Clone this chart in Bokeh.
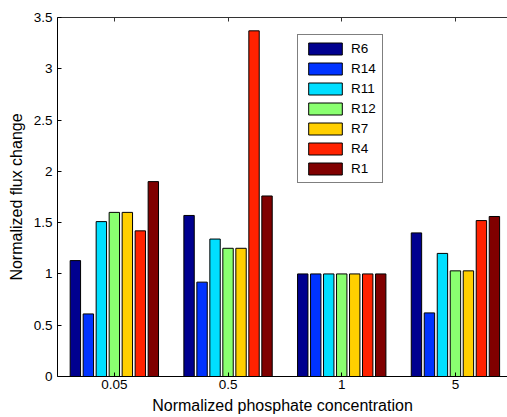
from bokeh.plotting import figure
from bokeh.models import (Legend, LegendItem, LinearAxis, FixedTicker,
                          CustomJSTickFormatter, Range1d, ColumnDataSource)
from bokeh.embed import file_html
from bokeh.resources import INLINE

# Phosphate levels (normalized) and the reactions whose flux change is shown
concentrations = ["0.05", "0.5", "1", "5"]
reactions = ["R6", "R14", "R11", "R12", "R7", "R4", "R1"]

r6 = [1.13, 1.57, 1.00, 1.40]
r14 = [0.61, 0.92, 1.00, 0.62]
r11 = [1.51, 1.34, 1.00, 1.20]
r12 = [1.60, 1.25, 1.00, 1.03]
r7 = [1.60, 1.25, 1.00, 1.03]
r4 = [1.42, 3.37, 1.00, 1.52]
r1 = [1.90, 1.76, 1.00, 1.56]
series = [r6, r14, r11, r12, r7, r4, r1]

colors = ["#00008F", "#0033FF", "#00DFFF", "#8AFF70", "#FFCF00", "#FF2200", "#800000"]

FONT = "Liberation Sans"

p = figure(width=507, height=417, output_backend="svg", toolbar_location=None,
           x_range=Range1d(0.5, 4.458), y_range=Range1d(0, 3.5),
           min_border_left=57, min_border_right=0,
           min_border_top=17, min_border_bottom=41)
p.outline_line_color = None
p.xgrid.visible = False
p.ygrid.visible = False
p.background_fill_color = "white"
p.border_fill_color = "white"

# grouped bars: 7 series share 0.8 of each category slot
n = len(series)
group_width = 0.8
slot = group_width / n
bar_w = slot * 0.8
positions = list(range(1, len(concentrations) + 1))

items = []
for i, (name, vals, col) in enumerate(zip(reactions, series, colors)):
    offset = -group_width / 2 + (i + 0.5) * slot
    src = ColumnDataSource(dict(x=[x + offset for x in positions], top=vals))
    r = p.vbar(x="x", top="top", width=bar_w, bottom=0, source=src,
               fill_color=col, line_color="black", line_width=1)
    items.append(LegendItem(label=name, renderers=[r]))

# x axis (bottom)
xa = p.xaxis[0]
xa.ticker = FixedTicker(ticks=positions)
xa.major_label_overrides = {pos: lab for pos, lab in zip(positions, concentrations)}
xa.axis_label = "Normalized phosphate concentration"

# y axis (left)
ya = p.yaxis[0]
ya.ticker = FixedTicker(ticks=[0, 0.5, 1, 1.5, 2, 2.5, 3, 3.5])
ya.formatter = CustomJSTickFormatter(code="return String(tick)")
ya.axis_label = "Normalized flux change"

for ax in (xa, ya):
    ax.major_tick_in = 4
    ax.major_tick_out = 0
    ax.minor_tick_line_color = None
    ax.axis_line_color = "black"
    ax.major_tick_line_color = "black"
    ax.major_label_text_font = FONT
    ax.major_label_text_font_size = "13.5px"
    ax.major_label_text_color = "black"
    ax.axis_label_text_font = FONT
    ax.axis_label_text_font_size = "16px"
    ax.axis_label_text_font_style = "normal"
    ax.axis_label_text_color = "black"

xa.major_label_standoff = 3
xa.axis_label_standoff = 5
ya.major_label_standoff = 5
ya.axis_label_standoff = 6

# top frame edge with inward ticks
top = LinearAxis(ticker=FixedTicker(ticks=positions),
                 formatter=CustomJSTickFormatter(code="return ''"),
                 major_tick_in=4, major_tick_out=0,
                 minor_tick_line_color=None, axis_line_color="#333333",
                 major_tick_line_color="#333333", major_label_standoff=0)
p.add_layout(top, "above")

legend = Legend(items=items, location=(240, 193),
                glyph_width=42, glyph_height=15, label_height=15,
                spacing=5, padding=6, margin=0, label_standoff=5,
                label_text_font=FONT, label_text_font_size="13.5px",
                label_text_color="black",
                border_line_color="black", border_line_width=1,
                background_fill_color="white", background_fill_alpha=1.0)
p.add_layout(legend)

open("out.html", "w").write(file_html(p, INLINE))
